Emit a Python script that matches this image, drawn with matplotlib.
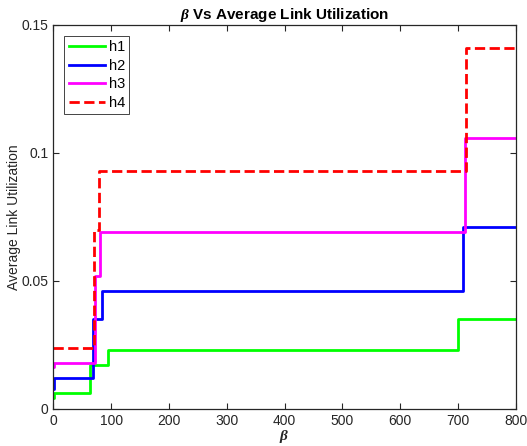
import matplotlib

matplotlib.use("Agg")
import matplotlib.pyplot as plt

plt.rcParams["font.family"] = ["Liberation Sans", "DejaVu Sans"]
plt.rcParams["mathtext.fontset"] = "custom"
plt.rcParams["mathtext.it"] = "Liberation Serif:italic:bold"

# step data: value holds from x[i] until x[i+1]
h1_x = [0, 2, 63, 95, 700, 800]
h1_y = [0.0043, 0.0063, 0.017, 0.023, 0.035, 0.035]
h2_x = [0, 2, 68, 84, 709, 800]
h2_y = [0.008, 0.012, 0.035, 0.046, 0.071, 0.071]
h3_x = [0, 2, 72, 81, 712, 800]
h3_y = [0.0164, 0.018, 0.052, 0.069, 0.106, 0.106]
h4_x = [0, 70, 79, 714, 800]
h4_y = [0.024, 0.070, 0.093, 0.141, 0.141]

labels = ["h1", "h2", "h3", "h4"]
colors = ["#00ff00", "#0000ff", "#ff00ff", "#ff0000"]

fig = plt.figure(figsize=(5.27, 4.46), dpi=100)
ax = fig.add_axes([0.101, 0.083, 0.878, 0.861])

series = [(h1_x, h1_y), (h2_x, h2_y), (h3_x, h3_y), (h4_x, h4_y)]
for i, (xs, ys) in enumerate(series):
    ax.step(
        xs, ys, where="post",
        color=colors[i], linewidth=2,
        linestyle="--" if i == 3 else "-",
        label=labels[i],
    )

ax.set_xlim(0, 800)
ax.set_ylim(0, 0.15)
ax.set_xticks(range(0, 801, 100))
ax.set_yticks([0, 0.05, 0.1, 0.15])
ax.set_yticklabels(["0", "0.05", "0.1", "0.15"])
ax.tick_params(direction="in", top=True, right=True, labelsize=10,
               colors="#262626", length=4, width=0.8)
for spine in ax.spines.values():
    spine.set_color("#262626")
    spine.set_linewidth(0.9)

ax.set_xlabel(r"$\beta$", fontsize=11, color="#262626", labelpad=0)
ax.set_ylabel("Average Link Utilization", fontsize=10, color="#262626", labelpad=0)
ax.set_title(r"$\beta$ Vs Average Link Utilization", fontsize=11,
             fontweight="bold", color="black", pad=4)

leg = ax.legend(loc="upper left", bbox_to_anchor=(0.024, 0.971), fontsize=10.5,
                handlelength=2.5, handletextpad=0.25, labelspacing=0.3,
                borderpad=0.3, borderaxespad=0, fancybox=False, framealpha=1)
leg.get_frame().set_edgecolor("#262626")
leg.get_frame().set_linewidth(0.6)

plt.savefig("out.png", dpi=100)
